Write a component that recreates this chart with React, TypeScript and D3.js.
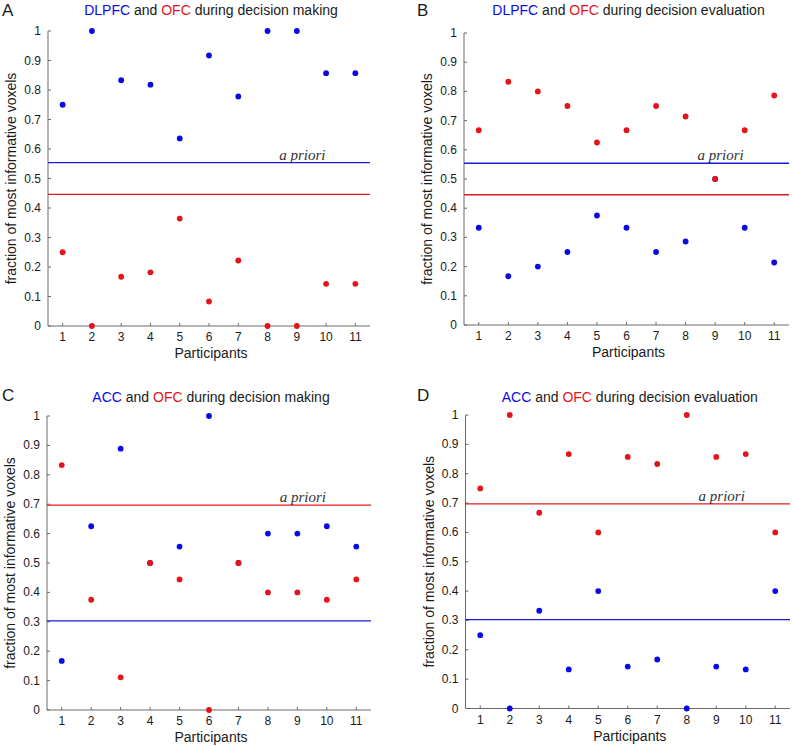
import React from "react";
import * as d3 from "d3";

const participants = [1, 2, 3, 4, 5, 6, 7, 8, 9, 10, 11];
const yTicks = [0, 0.1, 0.2, 0.3, 0.4, 0.5, 0.6, 0.7, 0.8, 0.9, 1];

const blueA = [0.75, 1, 0.833, 0.818, 0.636, 0.917, 0.778, 1, 1, 0.857, 0.857];
const redA = [0.25, 0, 0.167, 0.182, 0.364, 0.083, 0.222, 0, 0, 0.143, 0.143];
const blueB = [0.333, 0.167, 0.2, 0.25, 0.375, 0.333, 0.25, 0.286, 0.5, 0.333, 0.214];
const redB = [0.667, 0.833, 0.8, 0.75, 0.625, 0.667, 0.75, 0.714, 0.5, 0.667, 0.786];
const blueC = [0.167, 0.625, 0.889, 0.5, 0.556, 1, 0.5, 0.6, 0.6, 0.625, 0.556];
const redC = [0.833, 0.375, 0.111, 0.5, 0.444, 0, 0.5, 0.4, 0.4, 0.375, 0.444];
const blueD = [0.25, 0, 0.333, 0.133, 0.4, 0.143, 0.167, 0, 0.143, 0.133, 0.4];
const redD = [0.75, 1, 0.667, 0.867, 0.6, 0.857, 0.833, 1, 0.857, 0.867, 0.6];

const prioriDLPFC = { blue: 0.554, red: 0.446 };
const prioriACC = { blue: 0.303, red: 0.697 };

const BLUE = "#0a0ae6";
const RED = "#e6141a";
const LBLUE = "#1a1ae0";
const LRED = "#e01a1a";
const AXIS = "#6a6a6a";
const TEXT = "#1a1a1a";
const SANS = "Liberation Sans, Arial, sans-serif";

const panels = [
  { letter: "A", region: "DLPFC", phase: "decision making", blue: blueA, red: redA, priori: prioriDLPFC,
    x0: 48, x1: 370, yTop: 31, yBot: 326, lx: 2, ly: 16, ty: 15 },
  { letter: "B", region: "DLPFC", phase: "decision evaluation", blue: blueB, red: redB, priori: prioriDLPFC,
    x0: 464, x1: 789, yTop: 33, yBot: 325, lx: 417, ly: 16, ty: 15 },
  { letter: "C", region: "ACC", phase: "decision making", blue: blueC, red: redC, priori: prioriACC,
    x0: 47, x1: 371, yTop: 416, yBot: 710, lx: 2, ly: 401, ty: 402 },
  { letter: "D", region: "ACC", phase: "decision evaluation", blue: blueD, red: redD, priori: prioriACC,
    x0: 465.5, x1: 790, yTop: 415, yBot: 708.5, lx: 417, ly: 401, ty: 402 },
];

function Panel({ p }: { p: (typeof panels)[number] }) {
  const x = d3.scaleLinear().domain([0.5, 11.5]).range([p.x0, p.x1]);
  const y = d3.scaleLinear().domain([0, 1]).range([p.yBot, p.yTop]);
  const upper = Math.max(p.priori.blue, p.priori.red);
  const cx = (p.x0 + p.x1) / 2 + 2;
  return (
    <g>
      <text x={p.lx} y={p.ly} fontFamily={SANS} fontSize={17} fill={TEXT}>{p.letter}</text>
      <text x={cx} y={p.ty} fontFamily={SANS} fontSize={14} textAnchor="middle" fill={TEXT}>
        <tspan fill={BLUE}>{p.region}</tspan>
        <tspan> and </tspan>
        <tspan fill={RED}>OFC</tspan>
        <tspan> during {p.phase}</tspan>
      </text>
      <line x1={p.x0} x2={p.x0} y1={p.yTop} y2={p.yBot} stroke={AXIS} strokeWidth={1} />
      <line x1={p.x0} x2={p.x1} y1={p.yBot} y2={p.yBot} stroke={AXIS} strokeWidth={1} />
      {yTicks.map((t) => (
        <g key={"y" + t}>
          <line x1={p.x0} x2={p.x0 + 3} y1={y(t)} y2={y(t)} stroke={AXIS} />
          <text x={p.x0 - 7} y={y(t) + 4} fontFamily={SANS} fontSize={12} textAnchor="end" fill={TEXT}>
            {d3.format("")(t)}
          </text>
        </g>
      ))}
      {participants.map((t) => (
        <g key={"x" + t}>
          <line x1={x(t)} x2={x(t)} y1={p.yBot} y2={p.yBot - 3} stroke={AXIS} />
          <text x={x(t)} y={p.yBot + 15} fontFamily={SANS} fontSize={12} textAnchor="middle" fill={TEXT}>{t}</text>
        </g>
      ))}
      <text x={cx} y={p.yBot + 32} fontFamily={SANS} fontSize={14} textAnchor="middle" fill={TEXT}>Participants</text>
      <text transform={`translate(${p.x0 - 32},${(p.yTop + p.yBot) / 2}) rotate(-90)`} fontFamily={SANS}
        fontSize={14} textAnchor="middle" fill={TEXT}>fraction of most informative voxels</text>
      <line x1={p.x0} x2={p.x1} y1={y(p.priori.blue)} y2={y(p.priori.blue)} stroke={LBLUE} strokeWidth={1.3} />
      <line x1={p.x0} x2={p.x1} y1={y(p.priori.red)} y2={y(p.priori.red)} stroke={LRED} strokeWidth={1.3} />
      <text x={x(8.4)} y={y(upper) - 3} fontFamily="Liberation Serif, Times New Roman, serif" fontStyle="italic"
        fontSize={15} fill="#333">a priori</text>
      {p.blue.map((v, i) => (
        <circle key={"b" + i} cx={x(participants[i])} cy={y(v)} r={2.9} fill={BLUE} />
      ))}
      {p.red.map((v, i) => (
        <circle key={"r" + i} cx={x(participants[i])} cy={y(v)} r={2.9} fill={RED} />
      ))}
    </g>
  );
}

export default function App() {
  return (
    <svg width={792} height={746} style={{ position: "absolute", left: 0, top: 0, background: "#fff" }}>
      <rect width={792} height={746} fill="#fff" />
      {panels.map((p) => (
        <Panel key={p.letter} p={p} />
      ))}
    </svg>
  );
}
